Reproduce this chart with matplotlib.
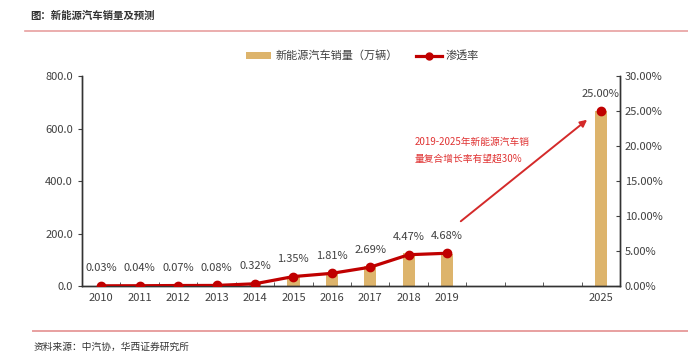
import matplotlib
matplotlib.use("Agg")
import matplotlib.pyplot as plt
from matplotlib.lines import Line2D
from matplotlib.patches import Patch

plt.rcParams['font.family'] = ['Noto Sans CJK SC', 'DejaVu Sans']

years = ['2010', '2011', '2012', '2013', '2014', '2015', '2016', '2017', '2018', '2019', '', '', '', '2025']
sales = [0.72, 0.82, 1.28, 1.76, 7.5, 33.1, 50.7, 77.7, 125.6, 120.6, None, None, None, 665.0]
penetration = [0.03, 0.04, 0.07, 0.08, 0.32, 1.35, 1.81, 2.69, 4.47, 4.68, None, None, None, 25.00]
pen_labels = ['0.03%', '0.04%', '0.07%', '0.08%', '0.32%', '1.35%', '1.81%', '2.69%', '4.47%', '4.68%', '', '', '', '25.00%']

bar_color = '#DDB46C'
line_color = '#C00000'
text_gray = '#404040'

fig = plt.figure(figsize=(6.88, 3.56), dpi=100)
ax = fig.add_axes([0.1192, 0.1966, 0.782, 0.5899])
ax2 = ax.twinx()

x = list(range(len(years)))
bx = [i for i, v in zip(x, sales) if v is not None]
bv = [v for v in sales if v is not None]
ax.bar(bx, bv, width=0.32, color=bar_color, zorder=2)
ax.set_ylim(0, 800)
ax.set_yticks([0, 200, 400, 600, 800])
ax.set_yticklabels([f'{v:.1f}' for v in [0, 200, 400, 600, 800]])
ax.set_xlim(-0.5, len(years) - 0.5)
ax.set_xticks(x)
ax.set_xticklabels(years)
ax.set_xticks([i + 0.5 for i in range(-1, len(years))], minor=True)
ax.tick_params(axis='x', which='major', length=0, colors=text_gray, labelsize=8, pad=5)
ax.tick_params(axis='x', which='minor', length=3, direction='in', color=text_gray)
ax.tick_params(axis='y', length=3, direction='out', colors=text_gray, labelsize=8)

# line for 2010-2019, separate marker for 2025
lx = x[:10]
lv = penetration[:10]
ax2.plot(lx, lv, color=line_color, lw=2.3, marker='o', ms=6, zorder=5)
ax2.plot([x[13]], [penetration[13]], color=line_color, marker='o', ms=6, lw=0, zorder=5)
ax2.set_ylim(0, 30)
ax2.set_yticks([0, 5, 10, 15, 20, 25, 30])
ax2.set_yticklabels([f'{v:.2f}%' for v in [0, 5, 10, 15, 20, 25, 30]])
ax2.tick_params(axis='y', length=3, direction='in', colors=text_gray, labelsize=8)

for i, (v, lab) in enumerate(zip(penetration, pen_labels)):
    if v is None:
        continue
    ax2.annotate(lab, (i, v), xytext=(0, 9), textcoords='offset points',
                 ha='center', va='bottom', fontsize=8, color=text_gray)

for a in (ax, ax2):
    a.spines['top'].set_visible(False)
    for s in ('left', 'right', 'bottom'):
        a.spines[s].set_color('#333333')
        a.spines[s].set_linewidth(1.0)
ax.set_zorder(ax2.get_zorder() - 1)
ax.patch.set_visible(False)
ax2.patch.set_visible(False)

# arrow annotation
ax2.annotate('', xy=(12.7, 24.0), xytext=(9.3, 9.0),
             arrowprops=dict(arrowstyle='-|>', color='#D42A2A', lw=1.4, mutation_scale=10))
fig.text(0.603, 0.578, '2019-2025年新能源汽车销\n量复合增长率有望超30%', color='#E03434',
         fontsize=7, ha='left', va='center', linespacing=1.9)

# legend
handles = [Patch(facecolor=bar_color, edgecolor='none'),
           Line2D([0], [0], color=line_color, lw=2.3, marker='o', ms=5)]
fig.legend(handles, ['新能源汽车销量（万辆）', '渗透率'], loc='center', bbox_to_anchor=(0.527, 0.843),
           ncol=2, frameon=False, fontsize=8, labelcolor=text_gray, handlelength=2.3,
           handletextpad=0.4, columnspacing=1.6, handleheight=0.6)

# header / footer
fig.text(0.044, 0.955, '图：新能源汽车销量及预测', fontsize=7.5, fontweight='bold', color='#333333',
         ha='left', va='center')
fig.add_artist(Line2D([0.036, 1.0], [0.913, 0.913], color='#E8A0A0', lw=1.2, transform=fig.transFigure))
fig.add_artist(Line2D([0.048, 1.0], [0.07, 0.07], color='#E8A0A0', lw=1.4, transform=fig.transFigure))
fig.text(0.048, 0.025, '资料来源：中汽协，华西证券研究所', fontsize=7, color='#333333',
         ha='left', va='center')

fig.savefig('out.png', dpi=100)
